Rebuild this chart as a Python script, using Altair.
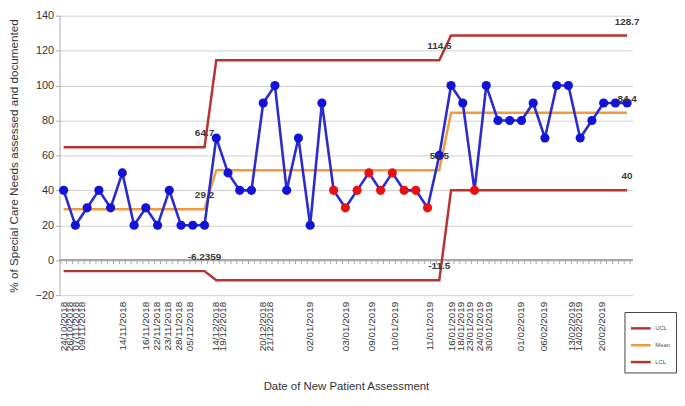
import json
import altair as alt
import pandas as pd

# ---- data ----
values = [40, 20, 30, 40, 30, 50, 20, 30, 20, 40, 20, 20, 20,
          70, 50, 40, 40, 90, 100, 40, 70, 20, 90, 40, 30, 40, 50, 40, 50, 40, 40, 30, 60,
          100, 90, 40, 100, 80, 80, 80, 90, 70, 100, 100, 70, 80, 90, 90, 90]
special_points = [23, 24, 25, 26, 27, 28, 29, 30, 31, 35]

phase_sizes = [13, 20, 16]
ucl_vals = [64.7, 114.5, 128.7]
mean_vals = [29.2, 51.5, 84.4]
lcl_vals = [-6.2359, -11.5, 40]
ucl_text = ["64.7", "114.5", "128.7"]
mean_text = ["29.2", "51.5", "84.4"]
lcl_text = ["-6.2359", "-11.5", "40"]

label_text = ["24/10/2018", "26/10/2018", "07/11/2018", "09/11/2018", "14/11/2018",
              "16/11/2018", "22/11/2018", "23/11/2018", "28/11/2018", "05/12/2018",
              "14/12/2018", "19/12/2018", "20/12/2018", "21/12/2018", "02/01/2019",
              "03/01/2019", "09/01/2019", "10/01/2019", "11/01/2019", "16/01/2019",
              "18/01/2019", "23/01/2019", "24/01/2019", "30/01/2019", "01/02/2019",
              "06/02/2019", "13/02/2019", "14/02/2019", "20/02/2019"]
label_pos = [0, 0.5, 1.0, 1.5, 4.98,
             7.0, 7.94, 8.86, 9.8, 10.7,
             12.9, 13.5, 16.97, 17.56, 20.94,
             24.0, 26.2, 28.2, 31.15, 33.0,
             33.8, 34.6, 35.4, 36.2, 38.9,
             40.9, 43.3, 43.9, 45.8]

# ---- tables ----
n = len(values)
pts = pd.DataFrame({"idx": list(range(n)), "value": values,
                    "special": [i in special_points for i in range(n)]})

rows = []
start = 0
for p, size in enumerate(phase_sizes):
    for i in range(start, start + size):
        rows.append({"idx": i, "series": "UCL", "value": ucl_vals[p]})
        rows.append({"idx": i, "series": "Mean", "value": mean_vals[p]})
        rows.append({"idx": i, "series": "LCL", "value": lcl_vals[p]})
    start += size
limits = pd.DataFrame(rows)

lab_rows = []
start = 0
for p, size in enumerate(phase_sizes):
    end = start + size - 1
    lab_rows.append({"idx": end, "value": ucl_vals[p], "text": ucl_text[p]})
    lab_rows.append({"idx": end, "value": mean_vals[p], "text": mean_text[p]})
    lab_rows.append({"idx": end, "value": lcl_vals[p], "text": lcl_text[p]})
    start += size
labels = pd.DataFrame(lab_rows)

tick_pos = pd.DataFrame({"idx": [k * 0.5 - 0.25 for k in range(98)]})

FONT = "Liberation Sans"
RED = "#B83430"
ORANGE = "#F29A3F"

xscale = alt.Scale(domain=[-0.35, 48.45], nice=False, zero=False)
yscale = alt.Scale(domain=[-20, 140], nice=False)

label_expr = f"{json.dumps(label_text)}[indexof({json.dumps(label_pos)}, datum.value)]"

xaxis = alt.Axis(values=label_pos, labelExpr=label_expr, ticks=False, domain=False,
                 grid=False, labelAngle=270, labelFontSize=10, labelColor="#333",
                 labelPadding=6, labelOverlap=False, labelFont=FONT,
                 title="Date of New Patient Assessment", titleFont=FONT,
                 titleFontSize=11.5, titleFontWeight="normal", titleColor="#333",
                 titlePadding=30)
yaxis = alt.Axis(values=list(range(-20, 141, 20)), grid=True, gridColor="#CFCFCF",
                 domainColor="#AAAAAA", tickColor="#AAAAAA", tickSize=4,
                 labelFontSize=11, labelColor="#333", labelFont=FONT, labelOverlap=False,
                 title="% of Special Care Needs assessed and documented",
                 titleFont=FONT, titleFontSize=11.8, titleFontWeight="normal",
                 titleColor="#333", titlePadding=16)

base_x = alt.X("idx:Q", scale=xscale, axis=xaxis)
base_y = alt.Y("value:Q", scale=yscale, axis=yaxis)

zero_line = alt.Chart(pts).mark_rule(color="#A8A8A8", strokeWidth=1.2).encode(
    y=alt.datum(0, scale=yscale, axis=yaxis)
)
ticks = alt.Chart(tick_pos).mark_rule(color="#A8A8A8", strokeWidth=1).encode(
    x=base_x,
    y=alt.datum(0, scale=yscale, axis=yaxis),
    y2=alt.datum(-2.2),
)

limit_lines = alt.Chart(limits).mark_line(strokeWidth=2.5).encode(
    x=base_x,
    y=base_y,
    color=alt.Color("series:N",
                    scale=alt.Scale(domain=["UCL", "Mean", "LCL"], range=[RED, ORANGE, RED]),
                    legend=alt.Legend(title=None, orient="none", legendX=570, legendY=299,
                                      symbolType="stroke", symbolSize=400,
                                      symbolStrokeWidth=2.5, labelFontSize=6,
                                      labelFont=FONT, labelColor="#555",
                                      strokeColor="#444", padding=5, rowPadding=-4,
                                      labelOffset=3, fillColor="white")),
    detail="series:N",
)

data_line = alt.Chart(pts).mark_line(color="#2B2BCF", strokeWidth=2.6).encode(
    x=base_x, y=base_y
)
points = alt.Chart(pts).mark_circle(size=85, opacity=1).encode(
    x=base_x, y=base_y,
    color=alt.condition("datum.special", alt.value("#E81010"), alt.value("#1212D8")),
)

text = alt.Chart(labels).mark_text(dy=-14, fontSize=10, fontWeight="bold",
                                   color="#3A3A3A", font=FONT).encode(
    x=base_x, y=base_y, text="text:N"
)

chart = alt.layer(zero_line, ticks, limit_lines, data_line, points, text).properties(
    width=578, height=282,
    padding={"left": 52, "top": 6, "right": 45, "bottom": 100},
    autosize=alt.AutoSizeParams(type="none"),
).configure_view(stroke=None)

chart.save("out.html", embed_options={"renderer": "svg", "actions": False})
